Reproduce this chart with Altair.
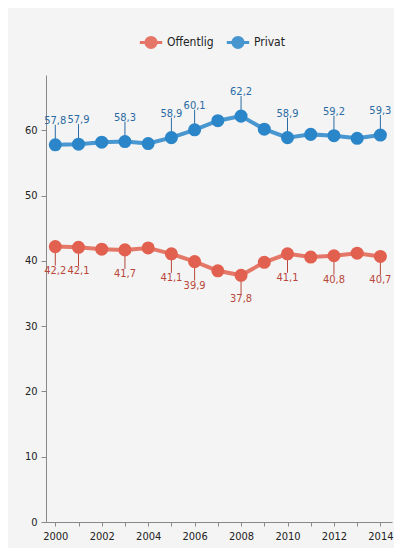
import altair as alt
import pandas as pd

years = list(range(2000, 2015))
offentlig = [42.2, 42.1, 41.8, 41.7, 42.0, 41.1, 39.9, 38.5, 37.8, 39.8, 41.1, 40.6, 40.8, 41.2, 40.7]
privat = [57.8, 57.9, 58.2, 58.3, 58.0, 58.9, 60.1, 61.5, 62.2, 60.2, 58.9, 59.4, 59.2, 58.8, 59.3]
label_years = [2000, 2001, 2003, 2005, 2006, 2008, 2010, 2012, 2014]
series_names = ["Offentlig", "Privat"]
point_colors = ["#e2604f", "#2a86c9"]
label_colors = ["#b8473a", "#2a6aa3"]

rows = []
for name, vals in zip(series_names, [offentlig, privat]):
    for y, v in zip(years, vals):
        rows.append({"year": y, "value": v, "series": name,
                     "label": f"{v:.1f}".replace(".", ","),
                     "show": y in label_years})
df = pd.DataFrame(rows)

FONT = "'DejaVu Sans Condensed', 'DejaVu Sans', sans-serif"

x = alt.X("year:Q", scale=alt.Scale(domain=[1999.6, 2014.5], nice=False, zero=False),
          axis=alt.Axis(title=None, values=years, format="d",
                        labelExpr="datum.value % 2 == 0 ? datum.label : ''",
                        grid=False, tickSize=4, labelPadding=4, labelFontSize=11,
                        labelFont=FONT, labelColor="#222", domainColor="#888",
                        tickColor="#888", labelFlush=False))
y = alt.Y("value:Q", scale=alt.Scale(domain=[0, 68.5], nice=False),
          axis=alt.Axis(title=None, values=[0, 10, 20, 30, 40, 50, 60], grid=False,
                        tickSize=5, labelPadding=4, labelFontSize=11, labelFont=FONT,
                        labelColor="#222", domainColor="#888", tickColor="#888"))
color = alt.Color("series:N", scale=alt.Scale(domain=series_names, range=point_colors),
                  legend=alt.Legend(title=None, orient="none", direction="horizontal",
                                    legendX=92, legendY=-46,
                                    symbolType="M-1,0L-0.45,0M0.45,0L1,0M-0.45,0A0.45,0.45,0,1,0,0.45,0A0.45,0.45,0,1,0,-0.45,0",
                                    symbolSize=500, symbolStrokeWidth=3,
                                    labelFont=FONT, labelFontSize=12, labelColor="#222",
                                    columnPadding=6, symbolOffset=0, labelOffset=3))

base = alt.Chart(df)

lines = base.mark_line(strokeWidth=4, opacity=0.85).encode(x=x, y=y, color=color)
points = base.mark_point(filled=True, size=170, opacity=1).encode(x=x, y=y, color=color)

lab = base.transform_filter("datum.show")
priv_rule = lab.transform_filter("datum.series == 'Privat'").mark_rule(
    strokeWidth=1, color=label_colors[1], y2Offset=-20).encode(x=x, y=y, y2="value:Q")
off_rule = lab.transform_filter("datum.series == 'Offentlig'").mark_rule(
    strokeWidth=1, color=label_colors[0], y2Offset=19).encode(x=x, y=y, y2="value:Q")
priv_text = lab.transform_filter("datum.series == 'Privat'").mark_text(
    font=FONT, fontSize=11, color=label_colors[1], baseline="bottom", dy=-19).encode(
    x=x, y=y, text="label:N")
off_text = lab.transform_filter("datum.series == 'Offentlig'").mark_text(
    font=FONT, fontSize=11, color=label_colors[0], baseline="top", dy=18).encode(
    x=x, y=y, text="label:N")

chart = alt.layer(lines, priv_rule, off_rule, points, priv_text, off_text).properties(
    width=346, height=447,
    autosize=alt.AutoSizeParams(type="none"),
    padding={"left": 38, "top": 67, "right": 2, "bottom": 26},
    background="#f4f4f4",
).configure_view(stroke=None)

chart.save("out.html", embed_options={"renderer": "svg", "actions": False})
